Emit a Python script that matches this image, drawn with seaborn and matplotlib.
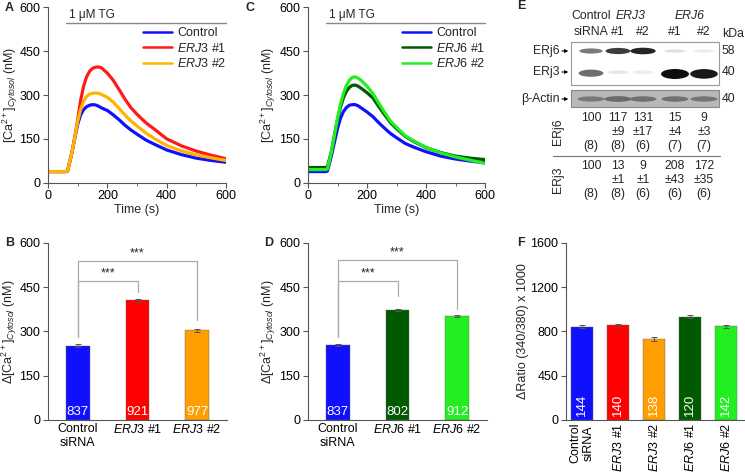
import numpy as np
import pandas as pd
import matplotlib
matplotlib.use("Agg")
import matplotlib.pyplot as plt
from matplotlib.patches import Ellipse, Rectangle
from matplotlib.lines import Line2D
import seaborn as sns

# ---- traces (A, C) ----
time_s = [0, 30, 60, 66, 80, 90, 100, 110, 120, 130, 140, 150, 160, 170, 180,
          200, 220, 240, 260, 280, 300, 330, 360, 400, 450, 500, 550, 600]
ctrl_a = [38, 38, 38, 40, 100, 150, 200, 232, 250, 260, 265, 267, 266, 262, 256,
          247, 232, 215, 196, 180, 166, 146, 131, 112, 96, 84, 76, 70]
erj3_1 = [38, 38, 38, 40, 100, 155, 215, 282, 330, 362, 381, 391, 395, 396, 393,
          375, 350, 318, 285, 256, 234, 205, 182, 150, 126, 108, 94, 82]
erj3_2 = [38, 38, 38, 40, 100, 152, 210, 250, 278, 295, 303, 306, 307, 306, 302,
          292, 276, 253, 231, 211, 194, 170, 150, 127, 109, 95, 85, 76]
ctrl_c = [38, 38, 38, 40, 95, 140, 185, 220, 243, 257, 265, 267, 267, 263, 256,
          242, 226, 205, 186, 168, 154, 134, 121, 106, 91, 81, 74, 68]
erj6_1 = [52, 52, 52, 54, 110, 165, 215, 258, 290, 312, 326, 333, 334, 330, 323,
          308, 290, 260, 232, 205, 185, 158, 140, 120, 103, 91, 84, 79]
erj6_2 = [45, 45, 45, 47, 108, 165, 220, 268, 305, 332, 350, 360, 362, 358, 350,
          330, 305, 272, 240, 210, 190, 160, 142, 121, 102, 88, 77, 66]

# ---- bars (B, D, F) ----
b_labels = ["Control\nsiRNA", r"$\it{ERJ3}$ #1", r"$\it{ERJ3}$ #2"]
b_vals = [252, 405, 303]
b_err = [4, 4, 6]
b_n = ["837", "921", "977"]

d_labels = ["Control\nsiRNA", r"$\it{ERJ6}$ #1", r"$\it{ERJ6}$ #2"]
d_vals = [253, 373, 352]
d_err = [3, 4, 5]
d_n = ["837", "802", "912"]

f_labels = ["Control\nsiRNA", r"$\it{ERJ3}$ #1", r"$\it{ERJ3}$ #2",
            r"$\it{ERJ6}$ #1", r"$\it{ERJ6}$ #2"]
f_vals = [843, 855, 731, 930, 845]
f_err = [14, 14, 14, 14, 14]
f_n = ["144", "140", "138", "120", "142"]

# ---- blot (E) ----
erj6_band = [0.55, 0.8, 0.9, 0.12, 0.08]
erj3_band = [0.6, 0.1, 0.08, 1.0, 0.95]
actin_band = [0.55, 0.68, 0.62, 0.62, 0.58]
erj6_mean = ["100", "117", "131", "15", "9"]
erj6_sd = ["", "±9", "±17", "±4", "±3"]
erj6_nn = ["(8)", "(8)", "(6)", "(7)", "(7)"]
erj3_mean = ["100", "13", "9", "208", "172"]
erj3_sd = ["", "±1", "±1", "±43", "±35"]
erj3_nn = ["(8)", "(8)", "(6)", "(6)", "(6)"]

BLUE = "#1010ff"
RED = "#ff1a1a"
ORANGE_L = "#ffb400"
ORANGE_B = "#ff9e00"
DKGREEN = "#005a00"
GREEN = "#22ee22"

sns.set_theme(style="ticks")
plt.rcParams["font.family"] = ["Liberation Sans", "DejaVu Sans"]
plt.rcParams["mathtext.fontset"] = "custom"
plt.rcParams["mathtext.rm"] = "Liberation Sans"
plt.rcParams["mathtext.it"] = "Liberation Sans:italic"
plt.rcParams["mathtext.bf"] = "Liberation Sans:bold"
plt.rcParams["font.size"] = 9
plt.rcParams["axes.edgecolor"] = "#555555"
plt.rcParams["axes.linewidth"] = 0.8
plt.rcParams["xtick.color"] = "#555555"
plt.rcParams["ytick.color"] = "#555555"
plt.rcParams["xtick.labelcolor"] = "black"
plt.rcParams["ytick.labelcolor"] = "black"
plt.rcParams["xtick.major.size"] = 3.5
plt.rcParams["ytick.major.size"] = 3.5

W, H = 745, 472
fig = plt.figure(figsize=(W / 100, H / 100), dpi=100)
TICK = 9
LAB = 9


def box(l, t, r, b):
    return [l / W, 1 - b / H, (r - l) / W, (b - t) / H]


def style(ax):
    sns.despine(ax=ax)
    ax.tick_params(labelsize=TICK, width=0.8, pad=2)


def trace_panel(rect, series, names, colors, letter, lx, ylab_x):
    ax = fig.add_axes(box(*rect))
    n = len(time_s)
    df = pd.DataFrame({
        "time": time_s * len(series),
        "ca": sum(series, []),
        "group": sum([[nm] * n for nm in names], []),
    })
    sns.lineplot(data=df, x="time", y="ca", hue="group", hue_order=names,
                 palette=colors, linewidth=2.3, legend=False, sort=False,
                 estimator=None, ax=ax)
    ax.set_xlim(0, 600)
    ax.set_ylim(0, 600)
    ax.set_xticks([0, 200, 400, 600])
    ax.set_xticks([100, 300, 500], minor=True)
    ax.set_yticks([0, 150, 300, 450, 600])
    ax.tick_params(which="minor", length=2, width=0.6)
    ax.set_xlabel("Time (s)", fontsize=LAB, labelpad=1)
    ax.set_ylabel(r"[Ca$^{2+}$]$_{\it{Cytosol}}$ (nM)", fontsize=LAB)
    ax.yaxis.set_label_coords(ylab_x, 0.5)
    ax.plot([62, 600], [545, 545], color="#888888", lw=1, clip_on=False)
    ax.text(72, 552, "1 μM TG", fontsize=8.5, va="bottom")
    handles = [Line2D([], [], color=c, lw=1.8) for c in colors]
    labels = ["Control"] + [nm.replace("ERJ", r"$\it{ERJ").replace(" #", r"}$ #") for nm in names[1:]]
    ax.legend(handles, labels, loc="upper right", bbox_to_anchor=(1.03, 0.915),
              frameon=False, fontsize=LAB, handlelength=2.3, labelspacing=0.2,
              handletextpad=0.4, borderaxespad=0)
    style(ax)
    fig.text(lx / W, 1 - 8 / H, letter, fontsize=9, fontweight="bold", va="center")
    return ax


def bar_panel(rect, labels, vals, errs, ns, colors, width, xlim, letter, lx):
    ax = fig.add_axes(box(*rect))
    sns.barplot(x=list(range(len(vals))), y=vals, hue=list(range(len(vals))),
                palette=colors, width=width, legend=False, ax=ax, saturation=1,
                edgecolor="#666666", linewidth=0.3, native_scale=True)
    ax.errorbar(range(len(vals)), vals, yerr=errs, fmt="none", ecolor="#555555",
                elinewidth=0.7, capsize=2, capthick=0.7)
    ax.set_xlim(*xlim)
    ax.set_xticks(range(len(vals)))
    style(ax)
    fig.text(lx / W, 1 - 243 / H, letter, fontsize=9, fontweight="bold", va="center")
    return ax


# A
trace_panel((48, 7.3, 226, 182.7), [ctrl_a, erj3_1, erj3_2],
            ["Control", "ERJ3 #1", "ERJ3 #2"], [BLUE, RED, ORANGE_L], "A", 5, -0.16)
# C
trace_panel((308, 7.3, 485, 182.7), [ctrl_c, erj6_1, erj6_2],
            ["Control", "ERJ6 #1", "ERJ6 #2"], [BLUE, DKGREEN, GREEN], "C", 246, -0.17)

# B and D
for rect, labels, vals, errs, ns, cols, letter, lx, ylx, brackets in [
    ((48, 242.7, 227, 420), b_labels, b_vals, b_err, b_n, [BLUE, "#ff0000", ORANGE_B],
     "B", 5, -0.16, [(1, 471, 432), (2, 539, 338)]),
    ((308, 242.7, 487, 420), d_labels, d_vals, d_err, d_n, [BLUE, DKGREEN, GREEN],
     "D", 264, -0.168, [(1, 471, 418), (2, 541, 375)]),
]:
    ax = bar_panel(rect, labels, vals, errs, ns, cols, 0.4, (-0.5, 2.5), letter, lx)
    ax.set_ylim(0, 600)
    ax.set_yticks([0, 150, 300, 450, 600])
    ax.set_xticklabels(labels, fontsize=LAB)
    ax.tick_params(axis="x", length=0)
    ax.set_ylabel(r"Δ[Ca$^{2+}$]$_{\it{Cytosol}}$ (nM)", fontsize=LAB)
    ax.yaxis.set_label_coords(ylx, 0.5)
    for i, n in enumerate(ns):
        ax.text(i, 6, n, color="white", ha="center", va="bottom", fontsize=9.5)
    for j, top, foot in brackets:
        ax.plot([0, 0, j, j], [282, top, top, foot], color="#aaaaaa", lw=0.9, clip_on=False)
        ax.text(j / 2, top + 6, "***", ha="center", va="bottom", fontsize=9)

# F
ax = bar_panel((566, 242.7, 744, 420), f_labels, f_vals, f_err, f_n,
               [BLUE, "#ff0000", ORANGE_B, DKGREEN, GREEN], 0.6, (-0.45, 4.5), "F", 517)
ax.set_ylim(0, 1600)
ax.set_yticks([0, 400, 800, 1200, 1600])
ax.set_yticklabels(["0", "450", "800", "1200", "1600"])
ax.set_xticklabels(f_labels, rotation=90, fontsize=LAB)
ax.tick_params(axis="x", length=0)
ax.set_ylabel("ΔRatio (340/380) x 1000", fontsize=LAB)
ax.yaxis.set_label_coords(-0.21, 0.5)
for i, n in enumerate(f_n):
    ax.text(i, 35, n, color="white", ha="center", va="bottom", rotation=90, fontsize=9.5)

# E  (pixel coordinates of the figure region)
ae = fig.add_axes(box(490, 0, 745, 210))
ae.set_xlim(490, 745)
ae.set_ylim(210, 0)
ae.axis("off")
lane_x = [591, 618, 643, 675, 704]
fs = 8.8
ae.text(517, 6, "E", fontsize=9, fontweight="bold", va="center")
ae.text(lane_x[0], 16, "Control", ha="center", va="center", fontsize=fs)
ae.text((lane_x[1] + lane_x[2]) / 2, 16, "ERJ3", ha="center", va="center", fontsize=fs, style="italic")
ae.text((lane_x[3] + lane_x[4]) / 2, 16, "ERJ6", ha="center", va="center", fontsize=fs, style="italic")
for x, t in zip(lane_x, ["siRNA", "#1", "#2", "#1", "#2"]):
    ae.text(x, 32, t, ha="center", va="center", fontsize=fs)
ae.text(722, 34, "kDa", ha="left", va="center", fontsize=fs)
ae.add_patch(Rectangle((571, 42), 148, 43, facecolor="white", edgecolor="#999999", lw=0.8))
ae.add_patch(Rectangle((571, 90), 148, 17, facecolor="#b8b8b8", edgecolor="#888888", lw=0.8))
for x, v in zip(lane_x, erj6_band):
    g = 1 - 0.95 * v
    ae.add_patch(Ellipse((x, 51), 20 + 6 * v, 3 + 4 * v, facecolor=(g, g, g), edgecolor="none"))
for x, v in zip(lane_x, erj3_band):
    g = 1 - 0.95 * v
    ae.add_patch(Ellipse((x, 72 + 2 * v), 20 + 8 * v, 3 + 7 * v, facecolor=(g, g, g), edgecolor="none"))
for x, v in zip(lane_x, actin_band):
    g = 0.72 - 0.45 * v
    ae.add_patch(Ellipse((x, 99), 27, 3 + 4 * v, facecolor=(g, g, g), edgecolor="none"))
for y, t in [(51, "ERj6"), (72, "ERj3"), (99, "β-Actin")]:
    ae.text(560, y, t, ha="right", va="center", fontsize=fs)
    ae.annotate("", xy=(571, y), xytext=(559, y),
                arrowprops=dict(arrowstyle="-|>", lw=0.7, color="black", mutation_scale=5))
for y, t in [(51, "58"), (72, "40"), (99, "40")]:
    ae.text(722, y, t, ha="left", va="center", fontsize=fs)
for row, y in [(erj6_mean, 118), (erj6_sd, 132), (erj6_nn, 146),
               (erj3_mean, 166), (erj3_sd, 180), (erj3_nn, 194)]:
    for x, t in zip(lane_x, row):
        ae.text(x, y, t, ha="center", va="center", fontsize=fs)
ae.plot([553, 720], [156, 156], color="#777777", lw=0.8)
ae.text(558, 132, "ERj6", rotation=90, ha="center", va="center", fontsize=fs)
ae.text(558, 180, "ERj3", rotation=90, ha="center", va="center", fontsize=fs)

fig.savefig("out.png", dpi=100)
